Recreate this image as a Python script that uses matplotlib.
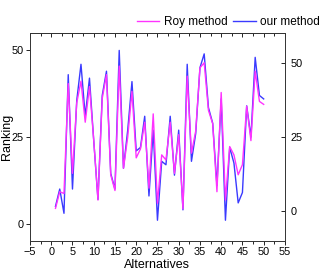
import matplotlib
matplotlib.use("Agg")
import matplotlib.pyplot as plt
from matplotlib.ticker import MultipleLocator, NullFormatter

plt.rcParams['font.family'] = ['Liberation Sans', 'DejaVu Sans']

alternatives = list(range(1, 51))
our_method = [5, 10, 3, 43, 10, 35.5, 46, 31, 42, 24,
              7, 37, 44, 14.5, 10, 50, 16, 27, 41, 21,
              22, 31, 8, 27, 1, 18, 17, 31, 14, 27,
              4, 46, 18, 26, 45, 49, 33.5, 29, 11, 36,
              1, 22, 17.5, 6, 9, 34, 25, 48, 37, 36]
roy_method = [1, 6.6, 6, 43, 12.8, 36.5, 43.8, 30, 42, 24,
              3.8, 38, 46, 12.3, 7, 48.9, 14.5, 25, 40.4, 18,
              21, 30, 7.8, 32.8, 2.7, 19, 17.3, 30, 12.8, 25.8,
              0.8, 45.5, 19.6, 27, 48.3, 50, 34, 29.5, 6.6, 40,
              3.8, 21.8, 19, 12.3, 15.7, 35.4, 23.8, 47.2, 37, 36]

fig = plt.figure(figsize=(3.26, 2.78), dpi=100)
ax = fig.add_axes([0.092, 0.133, 0.782, 0.748])
ax2 = ax.twinx()

l_our, = ax.plot(alternatives, our_method, color='#3a3aff', lw=1.0, label='our method')
l_roy, = ax2.plot(alternatives, roy_method, color='#ff33ff', lw=1.0, label='Roy method')

ax.set_xlim(-5, 55)
ax.set_ylim(-5, 55)
ax2.set_ylim(-10, 60)
ax.xaxis.set_major_locator(MultipleLocator(5))
ax.xaxis.set_minor_locator(MultipleLocator(2.5))
ax.yaxis.set_major_locator(MultipleLocator(25))
ax2.yaxis.set_major_locator(MultipleLocator(25))

ax.tick_params(axis='x', which='both', direction='out', labelsize=7.8, length=3, width=0.6, pad=1.5)
ax.tick_params(axis='x', which='minor', length=2)
ax.tick_params(axis='y', direction='out', labelsize=7.8, length=3, width=0.6, pad=1.5)
ax2.tick_params(axis='y', direction='in', labelsize=7.8, length=3, width=0.6, pad=4)

top = ax.secondary_xaxis('top')
top.xaxis.set_major_locator(MultipleLocator(5))
top.xaxis.set_minor_locator(MultipleLocator(2.5))
top.xaxis.set_major_formatter(NullFormatter())
top.tick_params(axis='x', which='both', direction='in', length=3, width=0.6)
top.tick_params(axis='x', which='minor', length=2)
top.spines['top'].set_linewidth(0.6)
top.spines['top'].set_color('#333333')

for a in (ax, ax2):
    for s in a.spines.values():
        s.set_linewidth(0.6)
        s.set_color('#333333')

ax.set_xlabel('Alternatives', fontsize=9, labelpad=1)
ax.set_ylabel('Ranking', fontsize=9)
ax.yaxis.set_label_coords(-0.068, 0.5)

fig.legend(handles=[l_roy, l_our], loc='upper right', bbox_to_anchor=(1.0, 0.965),
           ncol=2, frameon=False, fontsize=8.5, handlelength=1.9,
           handletextpad=0.4, columnspacing=0.5, borderaxespad=0.1)

fig.savefig('out.png', dpi=100)
